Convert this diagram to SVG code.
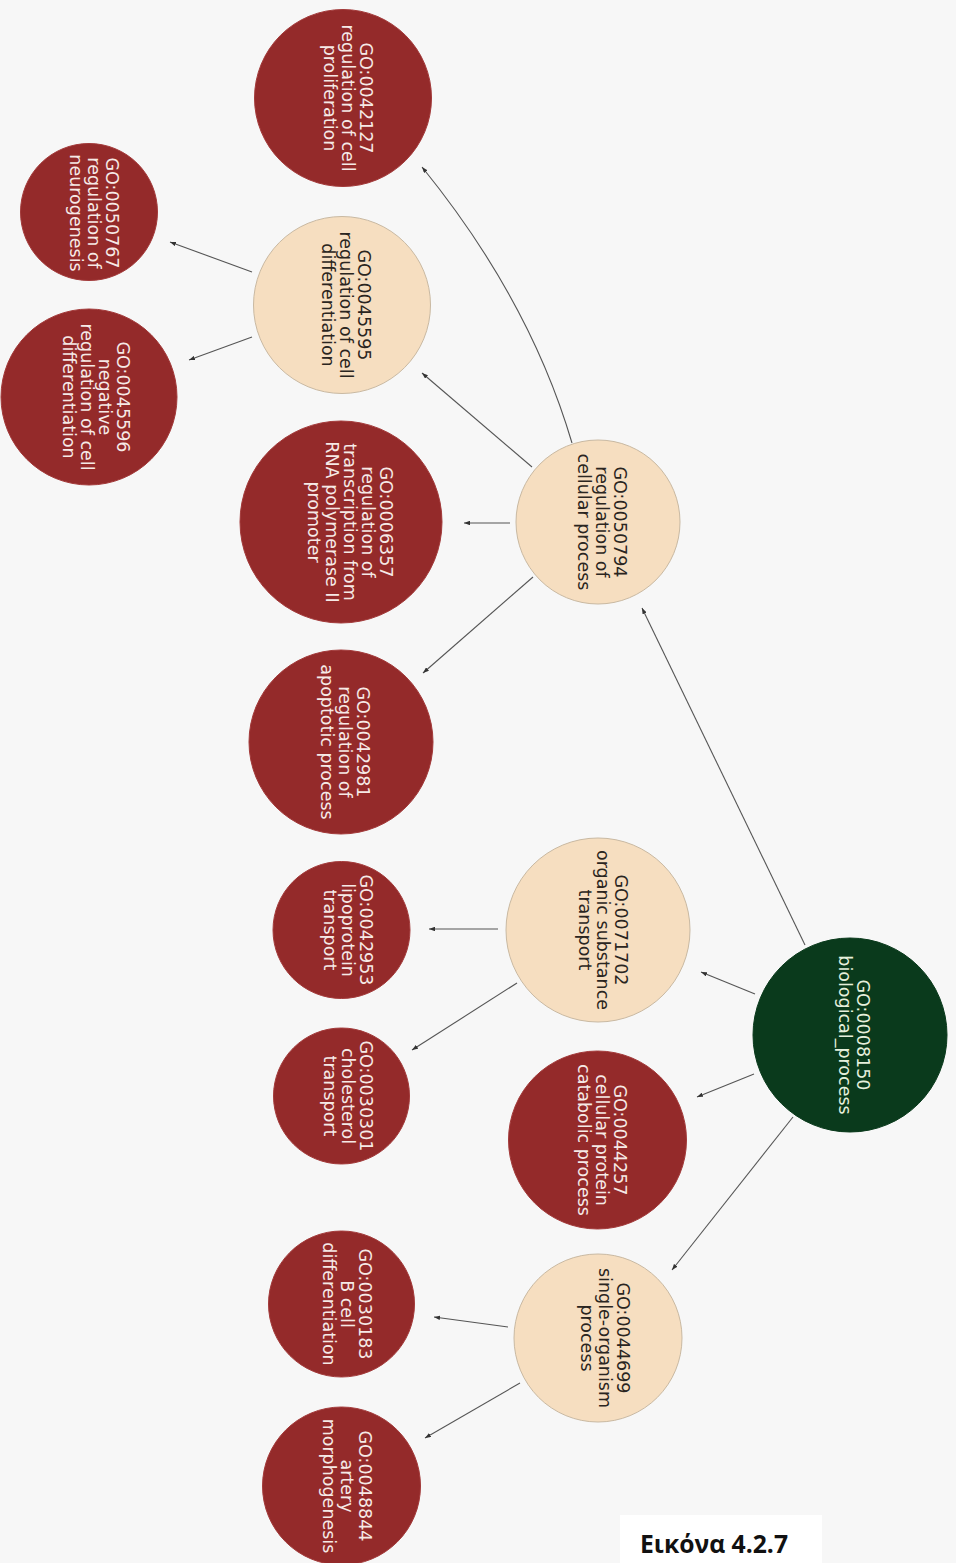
<svg xmlns="http://www.w3.org/2000/svg" width="956" height="1563" viewBox="0 0 956 1563">
<style>
.red{fill:#942a2a;stroke:#a33a3a;stroke-width:1}
.beige{fill:#f6dec0;stroke:#c9b9a2;stroke-width:1}
.green{fill:#0a3a1c;stroke:#0a3a1c;stroke-width:1}
text{font-family:"DejaVu Sans","Liberation Sans",sans-serif;font-size:17.5px;text-anchor:middle}
.lt{fill:#f6e9e6}
.dk{fill:#2a2520}
.gt{fill:#e6f0dc}
.edge{fill:none;stroke:#555;stroke-width:1.1;marker-end:url(#arr)}
.cap{font-family:"Open Sans","Liberation Sans",sans-serif;font-weight:bold;font-size:25px;fill:#111;text-anchor:start}
</style>
<defs>
<marker id="arr" viewBox="0 0 8 6" refX="8" refY="3" markerWidth="6" markerHeight="4.5" markerUnits="userSpaceOnUse" orient="auto">
<path d="M0,0 L8,3 L0,6 z" fill="#333"/>
</marker>
</defs>
<rect x="0" y="0" width="956" height="1563" fill="#f7f7f7"/>
<g id="connectors">
<line class="edge" x1="805" y1="945" x2="642" y2="608"/>
<line class="edge" x1="755" y1="994" x2="701" y2="972"/>
<line class="edge" x1="754" y1="1074" x2="697" y2="1097"/>
<line class="edge" x1="793" y1="1117" x2="672" y2="1270"/>
<path class="edge" d="M572,443 Q530,300 422,167"/>
<line class="edge" x1="532" y1="467" x2="422" y2="373"/>
<line class="edge" x1="510" y1="523" x2="464" y2="523"/>
<line class="edge" x1="533" y1="577" x2="423" y2="673"/>
<line class="edge" x1="252" y1="272" x2="170" y2="242"/>
<line class="edge" x1="252" y1="337" x2="189" y2="360"/>
<line class="edge" x1="498" y1="929" x2="429" y2="929"/>
<line class="edge" x1="517" y1="983" x2="412" y2="1050"/>
<line class="edge" x1="508" y1="1327" x2="434" y2="1317"/>
<line class="edge" x1="520" y1="1383" x2="425" y2="1438"/>
</g>
<g id="n0042127"><circle class="red" cx="343" cy="98" r="88.5"/>
<text class="lt" transform="translate(343,98) rotate(90)"><tspan x="0" y="-17">GO:0042127</tspan><tspan x="0" y="1">regulation of cell</tspan><tspan x="0" y="19">proliferation</tspan></text></g>
<g id="n0050767"><circle class="red" cx="89" cy="212" r="68.5"/>
<text class="lt" transform="translate(89,213) rotate(90)"><tspan x="0" y="-17">GO:0050767</tspan><tspan x="0" y="1">regulation of</tspan><tspan x="0" y="19">neurogenesis</tspan></text></g>
<g id="n0045595"><circle class="beige" cx="342" cy="305" r="88.5"/>
<text class="dk" transform="translate(342,305) rotate(90)"><tspan x="0" y="-16">GO:0045595</tspan><tspan x="0" y="2">regulation of cell</tspan><tspan x="0" y="20">differentiation</tspan></text></g>
<g id="n0045596"><circle class="red" cx="89" cy="397" r="88"/>
<text class="lt" transform="translate(89,397) rotate(90)"><tspan x="0" y="-28">GO:0045596</tspan><tspan x="0" y="-10">negative</tspan><tspan x="0" y="8">regulation of cell</tspan><tspan x="0" y="26">differentiation</tspan></text></g>
<g id="n0006357"><circle class="red" cx="341" cy="522" r="101"/>
<text class="lt" transform="translate(341,522) rotate(90)"><tspan x="0" y="-39">GO:0006357</tspan><tspan x="0" y="-21">regulation of</tspan><tspan x="0" y="-3">transcription from</tspan><tspan x="0" y="15">RNA polymerase II</tspan><tspan x="0" y="33">promoter</tspan></text></g>
<g id="n0050794"><circle class="beige" cx="598" cy="522" r="82"/>
<text class="dk" transform="translate(598,522) rotate(90)"><tspan x="0" y="-16">GO:0050794</tspan><tspan x="0" y="2">regulation of</tspan><tspan x="0" y="20">cellular process</tspan></text></g>
<g id="n0042981"><circle class="red" cx="341" cy="742" r="92"/>
<text class="lt" transform="translate(341,742) rotate(90)"><tspan x="0" y="-16">GO:0042981</tspan><tspan x="0" y="2">regulation of</tspan><tspan x="0" y="20">apoptotic process</tspan></text></g>
<g id="n0071702"><circle class="beige" cx="598" cy="930" r="92"/>
<text class="dk" transform="translate(598,930) rotate(90)"><tspan x="0" y="-17">GO:0071702</tspan><tspan x="0" y="1">organic substance</tspan><tspan x="0" y="19">transport</tspan></text></g>
<g id="n0042953"><circle class="red" cx="341.5" cy="930" r="68.5"/>
<text class="lt" transform="translate(341.5,930) rotate(90)"><tspan x="0" y="-18">GO:0042953</tspan><tspan x="0" y="0">lipoprotein</tspan><tspan x="0" y="18">transport</tspan></text></g>
<g id="n0030301"><circle class="red" cx="341.5" cy="1096" r="68"/>
<text class="lt" transform="translate(341.5,1096) rotate(90)"><tspan x="0" y="-18">GO:0030301</tspan><tspan x="0" y="0">cholesterol</tspan><tspan x="0" y="18">transport</tspan></text></g>
<g id="n0008150"><circle class="green" cx="850" cy="1035" r="97"/>
<text class="gt" transform="translate(850,1035) rotate(90)"><tspan x="0" y="-7">GO:0008150</tspan><tspan x="0" y="11">biological_process</tspan></text></g>
<g id="n0044257"><circle class="red" cx="597.5" cy="1140" r="89"/>
<text class="lt" transform="translate(597.5,1140) rotate(90)"><tspan x="0" y="-16">GO:0044257</tspan><tspan x="0" y="2">cellular protein</tspan><tspan x="0" y="20">catabolic process</tspan></text></g>
<g id="n0044699"><circle class="beige" cx="598" cy="1338" r="84"/>
<text class="dk" transform="translate(598,1338) rotate(90)"><tspan x="0" y="-19">GO:0044699</tspan><tspan x="0" y="-1">single-organism</tspan><tspan x="0" y="17">process</tspan></text></g>
<g id="n0030183"><circle class="red" cx="341.5" cy="1304" r="73"/>
<text class="lt" transform="translate(341.5,1304) rotate(90)"><tspan x="0" y="-17">GO:0030183</tspan><tspan x="0" y="1">B cell</tspan><tspan x="0" y="19">differentiation</tspan></text></g>
<g id="n0048844"><circle class="red" cx="341.5" cy="1486" r="79"/>
<text class="lt" transform="translate(341.5,1486) rotate(90)"><tspan x="0" y="-17">GO:0048844</tspan><tspan x="0" y="1">artery</tspan><tspan x="0" y="19">morphogenesis</tspan></text></g>
<g id="caption">
<rect x="620" y="1515" width="202" height="48" fill="#ffffff"/>
<text class="cap" x="640" y="1553" textLength="148" lengthAdjust="spacingAndGlyphs">Εικόνα 4.2.7</text>
</g>
</svg>
